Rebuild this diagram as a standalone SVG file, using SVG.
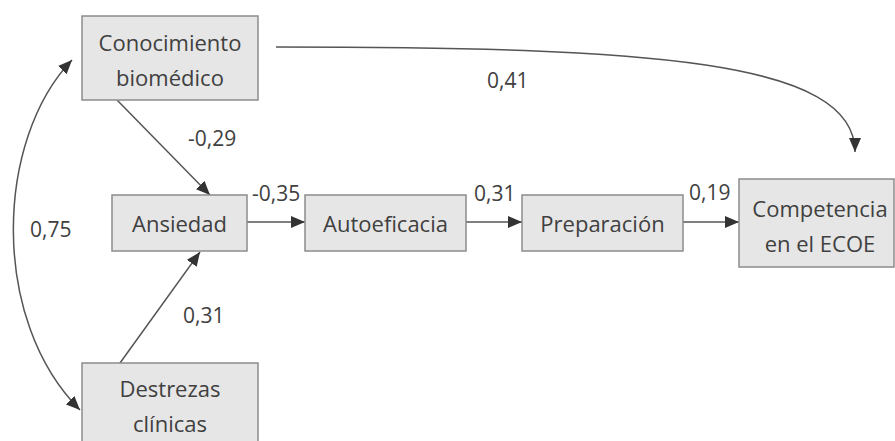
<svg xmlns="http://www.w3.org/2000/svg" width="895" height="441" viewBox="0 0 895 441">
<style>
.box{fill:#e6e6e6;stroke:#8c8c8c;stroke-width:1.5}
.nt{font-family:"Open Sans","Liberation Sans",sans-serif;font-size:22px;fill:#404040;text-anchor:middle}
.lb{font-family:"Open Sans","Liberation Sans",sans-serif;font-size:21px;fill:#404040}
.ln{fill:none;stroke:#555;stroke-width:1.5}
</style>
<defs>
<marker id="ah" viewBox="0 0 14 12" refX="14" refY="6" markerWidth="14" markerHeight="12" markerUnits="userSpaceOnUse" orient="auto-start-reverse">
<path d="M0,0 L14,6 L0,12 Z" fill="#333"/>
</marker>
</defs>
<rect width="895" height="441" fill="#fff"/>
<g id="connectors">
<path class="ln" d="M276,47 C650,47 855,60 855,152" marker-end="url(#ah)"/>
<line class="ln" x1="117" y1="100" x2="210" y2="195" marker-end="url(#ah)"/>
<line class="ln" x1="120" y1="363" x2="200" y2="252" marker-end="url(#ah)"/>
<line class="ln" x1="247" y1="222" x2="305" y2="222" marker-end="url(#ah)"/>
<line class="ln" x1="466" y1="222" x2="522" y2="222" marker-end="url(#ah)"/>
<line class="ln" x1="683" y1="222" x2="739" y2="222" marker-end="url(#ah)"/>
<path class="ln" d="M72,60 C-5,140 -10,320 80,410" marker-start="url(#ah)" marker-end="url(#ah)"/>
</g>
<g id="conocimiento">
<rect class="box" x="82" y="16" width="176" height="84"/>
<text class="nt" x="170" y="51">Conocimiento</text>
<text class="nt" x="170" y="86">biomédico</text>
</g>
<g id="ansiedad">
<rect class="box" x="112" y="195" width="135" height="56"/>
<text class="nt" x="179.5" y="232">Ansiedad</text>
</g>
<g id="autoeficacia">
<rect class="box" x="305" y="195" width="161" height="56"/>
<text class="nt" x="385.5" y="232">Autoeficacia</text>
</g>
<g id="preparacion">
<rect class="box" x="522" y="195" width="161" height="56"/>
<text class="nt" x="602.5" y="232">Preparación</text>
</g>
<g id="competencia">
<rect class="box" x="739" y="179" width="155" height="88"/>
<text class="nt" x="820" y="217">Competencia</text>
<text class="nt" x="820" y="252">en el ECOE</text>
</g>
<g id="destrezas">
<rect class="box" x="82" y="363" width="176" height="82"/>
<text class="nt" x="170" y="397">Destrezas</text>
<text class="nt" x="170" y="432">clínicas</text>
</g>
<g id="labels">
<text class="lb" x="188" y="146">-0,29</text>
<text class="lb" x="30" y="237">0,75</text>
<text class="lb" x="183" y="323">0,31</text>
<text class="lb" x="252" y="201">-0,35</text>
<text class="lb" x="474" y="201">0,31</text>
<text class="lb" x="689" y="200">0,19</text>
<text class="lb" x="487" y="88">0,41</text>
</g>
</svg>
